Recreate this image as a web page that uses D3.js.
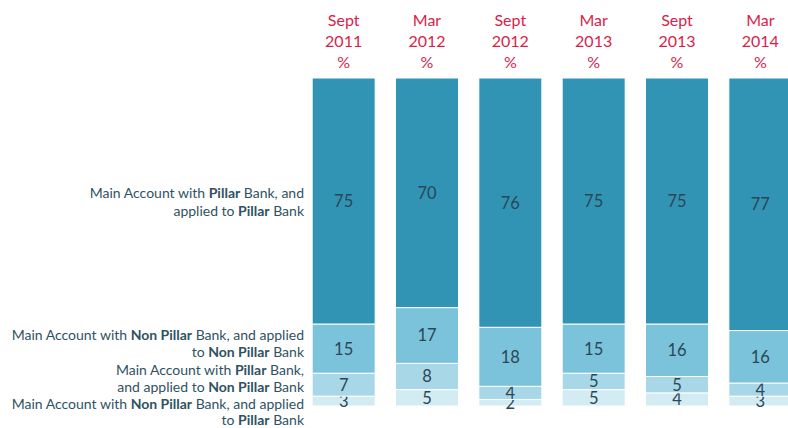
<!DOCTYPE html>
<html>
<head>
<meta charset="utf-8">
<script src="https://cdn.jsdelivr.net/npm/d3@7/dist/d3.min.js"></script>
<style>
  html, body { margin: 0; padding: 0; background: #fff; }
  svg { display: block; }
</style>
</head>
<body>
<svg id="chart" width="788" height="428"></svg>
<script>
// Survey waves
const periodMonths = ["Sept", "Mar", "Sept", "Mar", "Sept", "Mar"];
const periodYears  = ["2011", "2012", "2012", "2013", "2013", "2014"];

// Shares (%) per wave, stacked bottom to top
const nonPillarToPillar    = [3, 5, 2, 5, 4, 3];
const pillarToNonPillar    = [7, 8, 4, 5, 5, 4];
const nonPillarToNonPillar = [15, 17, 18, 15, 16, 16];
const pillarToPillar       = [75, 70, 76, 75, 75, 77];

const seriesKeys = ["nonToPillar", "pillarToNon", "nonToNon", "pillarToPillar"];
const seriesValues = [nonPillarToPillar, pillarToNonPillar, nonPillarToNonPillar, pillarToPillar];
const seriesColors = ["#d3ebf2", "#a8d8e7", "#7bc3da", "#3194b5"];

// Category labels, split into lines of [text, bold] runs
const seriesLabels = [
  [[["Main Account with ", false], ["Non Pillar", true], [" Bank, and applied", false]],
   [["to ", false], ["Pillar", true], [" Bank", false]]],
  [[["Main Account with ", false], ["Pillar", true], [" Bank,", false]],
   [["and applied to ", false], ["Non Pillar", true], [" Bank", false]]],
  [[["Main Account with ", false], ["Non Pillar", true], [" Bank, and applied", false]],
   [["to ", false], ["Non Pillar", true], [" Bank", false]]],
  [[["Main Account with ", false], ["Pillar", true], [" Bank, and", false]],
   [["applied to ", false], ["Pillar", true], [" Bank", false]]]
];

const table = periodYears.map((yr, i) => {
  const row = { idx: i };
  seriesKeys.forEach((k, j) => row[k] = seriesValues[j][i]);
  return row;
});

const svg = d3.select("#chart");
const font = "Lato, 'Open Sans', sans-serif";

const x = d3.scaleBand()
  .domain(d3.range(periodYears.length))
  .range([302, 802])
  .paddingInner(0.244)
  .paddingOuter(0.122);

const y = d3.scaleLinear().domain([0, 100]).range([406, 78]);

const stacked = d3.stack().keys(seriesKeys)(table);

const layers = svg.append("g").selectAll("g")
  .data(stacked)
  .join("g")
  .attr("fill", (d, i) => seriesColors[i]);

layers.selectAll("rect")
  .data(d => d)
  .join("rect")
  .attr("x", d => x(d.data.idx))
  .attr("y", d => y(d[1]))
  .attr("width", x.bandwidth())
  .attr("height", d => y(d[0]) - y(d[1]))
  .attr("stroke", "#ffffff")
  .attr("stroke-width", 1);

// Value labels centred in each segment
layers.selectAll("text")
  .data(d => d)
  .join("text")
  .attr("x", d => x(d.data.idx) + x.bandwidth() / 2)
  .attr("y", d => (y(d[0]) + y(d[1])) / 2)
  .attr("dy", "0.36em")
  .attr("text-anchor", "middle")
  .attr("font-family", font)
  .attr("font-size", 16.5)
  .attr("fill", "#2b4756")
  .text(d => d[1] - d[0]);

// Column headers
const head = svg.append("g").selectAll("text")
  .data(periodYears)
  .join("text")
  .attr("text-anchor", "middle")
  .attr("font-family", font)
  .attr("font-size", 16)
  .attr("fill", "#d81e4b");
head.each(function(yr, i) {
  const t = d3.select(this);
  const cx = x(i) + x.bandwidth() / 2;
  [periodMonths[i], yr, "%"].forEach((s, k) => {
    t.append("tspan").attr("x", cx).attr("y", 26 + k * 21).text(s);
  });
});

// Category labels on the left (line centres, top to bottom within each label)
const labelLineY = [[404, 420], [370, 387], [335, 352], [193, 211]];
const labels = svg.append("g")
  .attr("font-family", font)
  .attr("font-size", 14)
  .attr("fill", "#2f5262");
seriesLabels.forEach((lines, j) => {
  lines.forEach((runs, k) => {
    const t = labels.append("text")
      .attr("x", 304)
      .attr("y", labelLineY[j][k])
      .attr("dy", "0.35em")
      .attr("text-anchor", "end");
    runs.forEach(([s, b]) => {
      t.append("tspan").attr("font-weight", b ? "bold" : "normal").text(s);
    });
  });
});
</script>
</body>
</html>
